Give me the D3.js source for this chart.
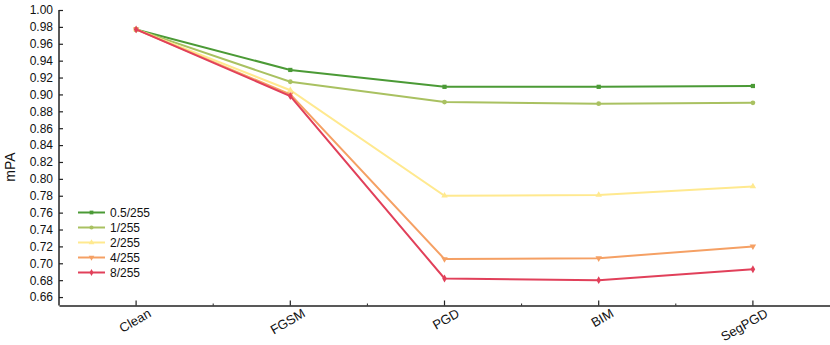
<!DOCTYPE html>
<html lang="en">
<head>
    <meta charset="UTF-8">
    <title>mPA chart</title>
    <style>
        html, body { margin: 0; background: #fff; }
        svg text { font-family: "Liberation Sans", Arial, sans-serif; fill: #111; }
    </style>
</head>
<body>
    <div class="chart"></div>
    <script src="https://d3js.org/d3.v7.min.js"></script>
    <script>
        var attacks = ["Clean", "FGSM", "PGD", "BIM", "SegPGD"];
        var epsNames = ["0.5/255", "1/255", "2/255", "4/255", "8/255"];
        var eps05 = [0.977, 0.929, 0.909, 0.909, 0.910];
        var eps1 = [0.977, 0.915, 0.891, 0.889, 0.890];
        var eps2 = [0.977, 0.905, 0.780, 0.781, 0.791];
        var eps4 = [0.977, 0.900, 0.705, 0.706, 0.720];
        var eps8 = [0.977, 0.898, 0.682, 0.680, 0.693];
        var yTicks = d3.range(0.66, 1.0001, 0.02);

        var series = [eps05, eps1, eps2, eps4, eps8];
        var colors = ["#4b9a36", "#a9c161", "#ffe98f", "#f5a064", "#e1405a"];
        var symbols = [d3.symbolSquare, d3.symbolCircle, d3.symbolTriangle, d3.symbolTriangle, d3.symbolDiamond];
        var symRot = [0, 0, 0, 180, 0];

        var width = 830, height = 345;
        var plot = { left: 59, right: 830, top: 10, bottom: 305.5 };

        var svg = d3.select('.chart').append('svg')
            .attr('width', width).attr('height', height);

        var x = d3.scaleBand().domain(attacks).range([plot.left, plot.right]);
        var xc = d => x(d) + x.bandwidth() / 2;
        var y = d3.scaleLinear().domain([0.65, 1.0]).range([plot.bottom, plot.top]);

        // y axis
        var yAxis = svg.append('g').attr('transform', `translate(${plot.left},0)`)
            .call(d3.axisLeft(y).tickValues(yTicks).tickFormat(d3.format('.2f')).tickSizeInner(-4).tickSizeOuter(0));
        yAxis.select('.domain').attr('stroke', '#222').attr('stroke-width', 1.5).attr('d', `M0,${plot.top}V${plot.bottom}`);
        yAxis.selectAll('.tick line').attr('stroke', '#222').attr('stroke-width', 1.2);
        yAxis.selectAll('.tick text').attr('x', -6).style('font-size', '12px');

        // x axis
        var xAxis = svg.append('g').attr('transform', `translate(0,${plot.bottom})`)
            .call(d3.axisBottom(x).tickSizeInner(-5).tickSizeOuter(0));
        xAxis.select('.domain').attr('stroke', '#222').attr('stroke-width', 1.5);
        xAxis.selectAll('.tick line').attr('stroke', '#222').attr('stroke-width', 1.2);
        xAxis.selectAll('.tick text')
            .attr('text-anchor', 'end')
            .attr('transform', 'translate(11,2) rotate(-30)')
            .attr('y', 0).attr('dy', '0.75em')
            .style('font-size', '13px');

        // minor ticks at band edges
        xAxis.selectAll('.minor').data(attacks.slice(1)).enter().append('line')
            .attr('x1', d => x(d)).attr('x2', d => x(d))
            .attr('y1', 0).attr('y2', -2)
            .attr('stroke', '#222');

        // y label
        svg.append('text')
            .attr('transform', 'translate(15,167) rotate(-90)')
            .attr('text-anchor', 'middle')
            .style('font-size', '14px')
            .text('mPA');

        var line = d3.line().x((d, i) => xc(attacks[i])).y(d => y(d));

        series.forEach(function (s, k) {
            svg.append('path')
                .attr('d', line(s))
                .attr('fill', 'none')
                .attr('stroke', colors[k])
                .attr('stroke-width', 2);
            svg.selectAll('.m' + k).data(s).enter().append('path')
                .attr('d', d3.symbol().type(symbols[k]).size(18))
                .attr('transform', (d, i) => `translate(${xc(attacks[i])},${y(d)}) rotate(${symRot[k]})`)
                .attr('fill', colors[k]);
        });

        // legend
        var legend = svg.append('g').attr('transform', 'translate(78,212.5)');
        epsNames.forEach(function (name, k) {
            var g = legend.append('g').attr('transform', `translate(0,${k * 15})`);
            g.append('line').attr('x1', 0).attr('x2', 27).attr('stroke', colors[k]).attr('stroke-width', 2);
            g.append('path').attr('d', d3.symbol().type(symbols[k]).size(14))
                .attr('transform', `translate(13.5,0) rotate(${symRot[k]})`)
                .attr('fill', colors[k]);
            g.append('text').attr('x', 32).attr('dy', '0.35em').style('font-size', '12px').text(name);
        });
    </script>
</body>
</html>
